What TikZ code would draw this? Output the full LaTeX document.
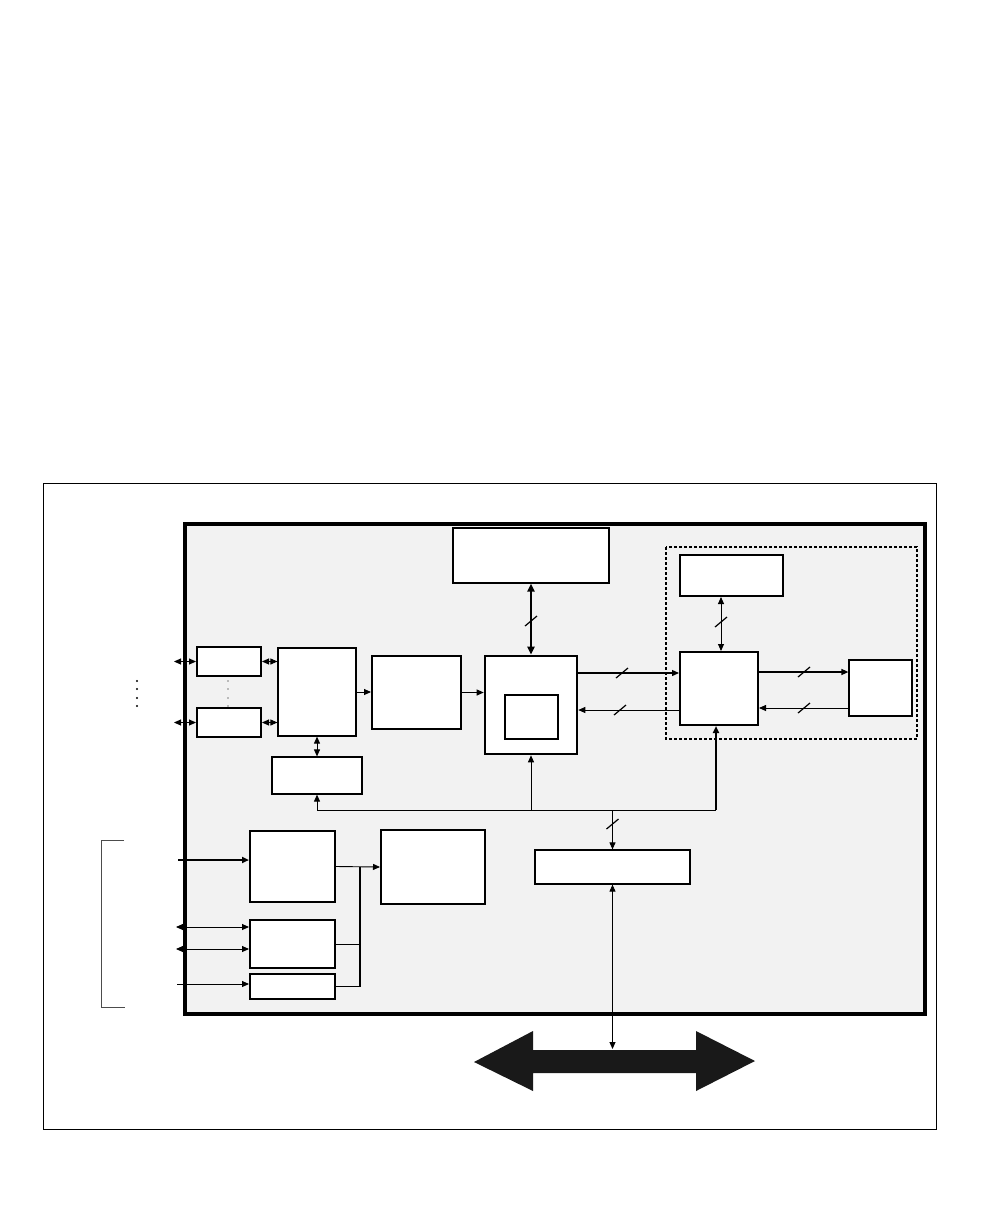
\documentclass[tikz,border=0pt]{standalone}
\usepackage{tikz}
\usetikzlibrary{arrows.meta}
\usetikzlibrary{calc}

\newcommand{\busslash}[1]{\draw[line width=1.2pt] ($(#1)+(-6,5)$) -- ($(#1)+(6,-5)$);}

\begin{document}
\begin{tikzpicture}[
    x=1pt, y=-1pt,
    blk/.style={draw, fill=white, inner sep=0pt, line width=1.2pt},
    boldblk/.style={blk, line width=2pt},
    conn/.style={line width=0.9pt, -{Triangle[length=7pt, width=6pt]}},
    biconn/.style={line width=0.9pt, {Triangle[length=7pt, width=6pt]}-{Triangle[length=7pt, width=6pt]}},
    thickbi/.style={line width=2.2pt, {Triangle[length=8pt, width=7pt]}-{Triangle[length=8pt, width=7pt]}},
]
\useasboundingbox (0,0) rectangle (1008,1224);

% --- Frame and chip ---
\draw[line width=1pt] (43,483) rectangle (936,1129);
\draw[line width=3.5pt, fill=gray!10] (185,524) rectangle (925,1014);
\draw[line width=1.3pt, dash pattern=on 3pt off 2pt] (666,547) rectangle (917,739);

% --- Blocks ---
\node[blk, minimum width=156pt, minimum height=55pt] (mem) at (531,555.5) {};
\node[boldblk, minimum width=64pt, minimum height=29pt] (port1) at (229,661.5) {};
\node[boldblk, minimum width=64pt, minimum height=29pt] (port2) at (229,722.5) {};
\node[blk, minimum width=78pt, minimum height=88pt] (mux) at (317,692) {};
\node[boldblk, minimum width=89pt, minimum height=73pt] (dec) at (416.5,692.5) {};
\node[blk, line width=2.6pt, minimum width=92pt, minimum height=98pt] (cpu) at (531,705) {};
\node[blk, minimum width=53pt, minimum height=44pt] (cache) at (531.5,717) {};
\node[blk, minimum width=90pt, minimum height=37pt] (ctl) at (317,775.5) {};
\node[boldblk, minimum width=103pt, minimum height=41pt] (rtop) at (731.5,575.5) {};
\node[boldblk, minimum width=78pt, minimum height=73pt] (rmid) at (719,688.5) {};
\node[blk, minimum width=63pt, minimum height=56pt] (far) at (880.5,688) {};
\node[blk, minimum width=155pt, minimum height=34pt] (bridge) at (612.5,867) {};
\node[boldblk, minimum width=85pt, minimum height=71pt] (inA) at (292.5,866.5) {};
\node[boldblk, minimum width=85pt, minimum height=48pt] (inB) at (292.5,944) {};
\node[boldblk, minimum width=85pt, minimum height=25pt] (inC) at (292.5,986.5) {};
\node[boldblk, minimum width=104pt, minimum height=74pt] (disp) at (433,867) {};

% --- Ports ---
\coordinate (ext1) at (174,661.5);
\coordinate (ext2) at (174,722.5);
\draw[biconn] (ext1) -- (port1.west);
\draw[biconn] (ext2) -- (port2.west);
\draw[biconn] (port1.east) -- (port1.east -| mux.west);
\draw[biconn] (port2.east) -- (port2.east -| mux.west);
\foreach \yy in {681,689,698,706}
{
    \fill (137,\yy) circle (1.2pt);
    \fill (228,\yy) circle (0.7pt);
}

% --- Data path ---
\draw[conn] (mux.east) -- (mux.east -| dec.west);
\draw[conn] (dec.east) -- (dec.east -| cpu.west);
\draw[biconn] (mux.south) -- (ctl.north);
\draw[thickbi] (mem.south -| cpu.north) -- (cpu.north);
\coordinate (s1) at (531,621);
\busslash{s1}

% --- Right group ---
\draw[biconn] (rtop.south -| 721,0) -- (rmid.north -| 721,0);
\coordinate (s2) at (721,622);
\busslash{s2}
\draw[conn, line width=1.3pt] (cpu.east |- 0,673) -- (rmid.west |- 0,673);
\coordinate (s3) at (622,673);
\busslash{s3}
\draw[conn] (rmid.west |- 0,710) -- (cpu.east |- 0,710);
\coordinate (s4) at (620,710);
\busslash{s4}
\draw[conn, line width=1.3pt] (rmid.east |- 0,672) -- (far.west |- 0,672);
\coordinate (s5) at (804,672);
\busslash{s5}
\draw[conn] (far.west |- 0,708) -- (rmid.east |- 0,708);
\coordinate (s6) at (804,708);
\busslash{s6}

% --- Internal bus ---
\coordinate (busL) at (317,810);
\coordinate (busR) at (716,810);
\draw[line width=0.9pt] (busL) -- (busR);
\draw[conn] (busL) -- (ctl.south);
\draw[conn] (cpu.south |- busL) -- (cpu.south);
\draw[conn, line width=2pt] (busR) -- (busR |- rmid.south);
\draw[conn] (bridge.north |- busL) -- (bridge.north);
\coordinate (s7) at (612.5,824);
\busslash{s7}

% --- External bus ---
\coordinate (bigtop) at (612.5,1049);
\draw[biconn] (bridge.south) -- (bigtop);
\fill[black!90] (474,1062) -- (533,1031) -- (533,1050) -- (696,1050) -- (696,1031)
    -- (755,1061) -- (696,1091) -- (696,1073) -- (533,1073) -- (533,1091) -- cycle;

% --- Inputs ---
\coordinate (exA) at (178,860);
\coordinate (exB1) at (176,927);
\coordinate (exB2) at (176,949);
\coordinate (exC) at (177,984);
\draw[conn, line width=1.8pt] (exA) -- (exA -| inA.west);
\draw[biconn] (exB1) -- (exB1 -| inB.west);
\draw[biconn] (exB2) -- (exB2 -| inB.west);
\draw[conn] (exC) -- (exC -| inC.west);
\draw[line width=0.8pt, black!70] (124,840) -- (101,840) -- (101,1007) -- (125,1007);

% --- Into display ---
\coordinate (jn) at (360,867);
\draw[conn] (inA.east) -- (disp.west);
\draw[line width=0.9pt] (inB.east) -- (inB.east -| jn);
\draw[line width=1.6pt] (inC.east) -- (inC.east -| jn) -- (jn);

\end{tikzpicture}
\end{document}
